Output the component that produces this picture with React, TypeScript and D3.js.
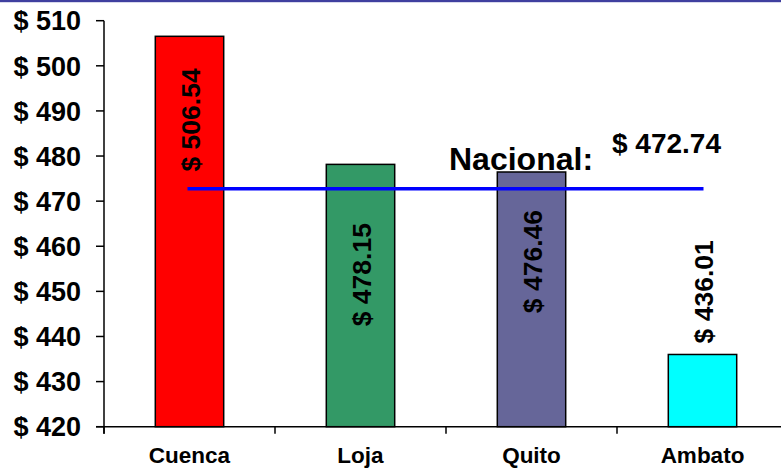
import React from "react";
import * as d3 from "d3";

const categories = ["Cuenca", "Loja", "Quito", "Ambato"];
const values = [506.54, 478.15, 476.46, 436.01];
const valueLabels = ["$ 506.54", "$ 478.15", "$ 476.46", "$ 436.01"];
// label centre positions, in data units
const labelCenters = [488.0, 453.7, 456.6, 449.9];
const barColors = ["#ff0000", "#339966", "#666699", "#00ffff"];
const yTicks = [420, 430, 440, 450, 460, 470, 480, 490, 500, 510];
const nationalValue = 472.74;
const nationalTitle = "Nacional:";
const nationalLabel = "$ 472.74";

const W = 781;
const H = 469;
const FONT = "'Liberation Sans', Arial, Helvetica, sans-serif";

export default function App() {
  const left = 104;
  const top = 20.7;
  const bottom = 426.7;
  const bandW = 171;
  const x = d3
    .scaleBand<string>()
    .domain(categories)
    .range([left, left + bandW * categories.length])
    .paddingInner(0.6)
    .paddingOuter(0.3);
  const y = d3.scaleLinear().domain([420, 510]).range([bottom, top]);
  const step = x.step();
  const catTicks = d3.range(categories.length + 1).map((i) => left + i * step);
  const cx = (c: string) => (x(c) as number) + x.bandwidth() / 2;

  return (
    <svg
      width={W}
      height={H}
      style={{ position: "absolute", left: 0, top: 0, background: "#fff" }}
      fontFamily={FONT}
    >
      <rect x={0} y={0} width={W} height={H} fill="#fff" />
      <rect x={0} y={0} width={W} height={2.2} fill="#3f3f9f" />

      {/* bars */}
      {categories.map((c, i) => (
        <rect
          key={c}
          x={x(c)}
          y={y(values[i])}
          width={x.bandwidth()}
          height={y(420) - y(values[i])}
          fill={barColors[i]}
          stroke="#000"
          strokeWidth={1.5}
        />
      ))}

      {/* y axis */}
      <line x1={left} x2={left} y1={top} y2={bottom + 7} stroke="#000" strokeWidth={1.5} />
      {yTicks.map((t) => (
        <g key={t}>
          <line x1={left - 8} x2={left} y1={y(t)} y2={y(t)} stroke="#000" strokeWidth={1.5} />
          <text
            x={81}
            y={y(t)}
            dy="0.36em"
            textAnchor="end"
            fontSize={27}
            fontWeight="bold"
            fill="#000"
          >
            {"$ " + t}
          </text>
        </g>
      ))}

      {/* x axis */}
      <line x1={left - 8} x2={W} y1={bottom} y2={bottom} stroke="#000" strokeWidth={1.5} />
      {catTicks.map((t, i) => (
        <line key={i} x1={t} x2={t} y1={bottom} y2={bottom + 7} stroke="#000" strokeWidth={1.5} />
      ))}
      {categories.map((c) => (
        <text
          key={c}
          x={cx(c)}
          y={463}
          textAnchor="middle"
          fontSize={22.5}
          fontWeight="bold"
          fill="#000"
        >
          {c}
        </text>
      ))}

      {/* national line */}
      <line
        x1={cx(categories[0]) - 2}
        x2={cx(categories[categories.length - 1]) + 1}
        y1={y(nationalValue)}
        y2={y(nationalValue)}
        stroke="#0000ff"
        strokeWidth={3.5}
      />

      {/* value labels */}
      {categories.map((c, i) => (
        <text
          key={c}
          transform={`translate(${cx(c) + 1},${y(labelCenters[i])}) rotate(-90)`}
          textAnchor="middle"
          dy="0.36em"
          fontSize={26.5}
          fontWeight="bold"
          fill="#000"
        >
          {valueLabels[i]}
        </text>
      ))}

      <text x={449} y={170} fontSize={32} fontWeight="bold" fill="#000">
        {nationalTitle}
      </text>
      <text x={612} y={153} fontSize={28} fontWeight="bold" fill="#000">
        {nationalLabel}
      </text>
    </svg>
  );
}
